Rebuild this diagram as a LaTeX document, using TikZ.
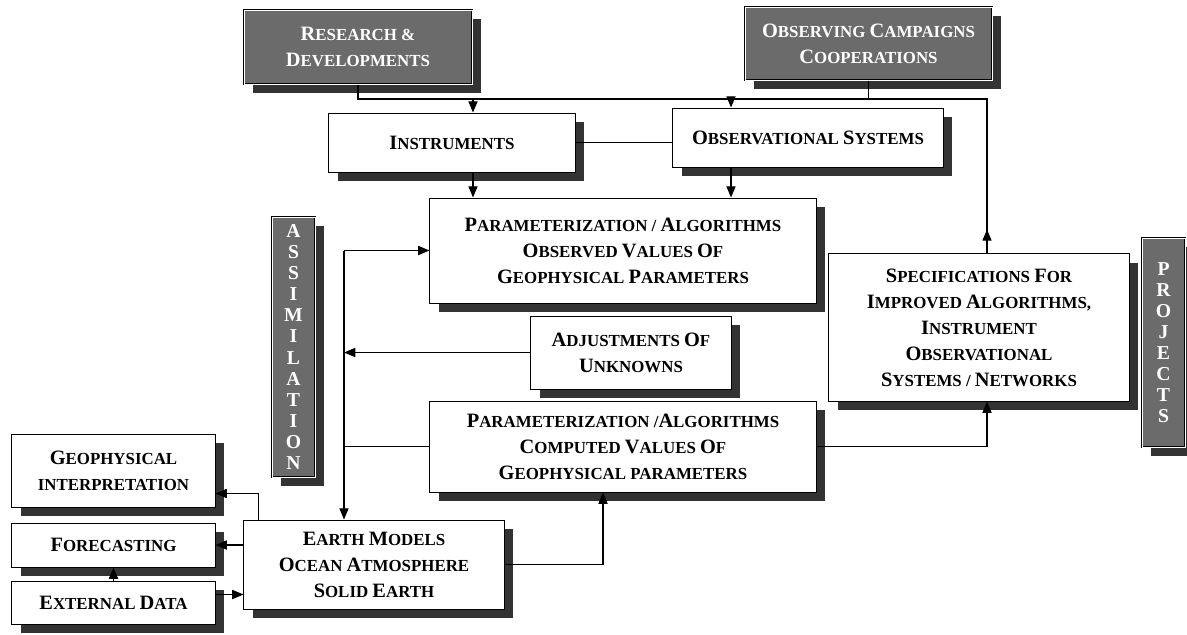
\documentclass[tikz,border=0pt]{standalone}
\usepackage{fontspec}
\setmainfont{Liberation Serif}
\usepackage{tikz}
\usetikzlibrary{arrows.meta, calc, shadows}
\newcommand{\Bg}[1]{{\fontsize{14.5}{18.5}\selectfont #1}}

\begin{document}
\begin{tikzpicture}[x=0.025cm, y=-0.025cm,
  block/.style={rectangle, draw=black, line width=0.7pt, fill=white, inner sep=0pt, align=center,
                font=\fontsize{12}{18.5}\selectfont\bfseries,
                drop shadow={shadow xshift=6.5pt, shadow yshift=-6.5pt, fill=black!80, opacity=1}},
  dark/.style={block, fill=black!58, text=white, double=white, double distance=0.6pt},
  tall/.style={dark, font=\fontsize{14}{15}\selectfont\bfseries},
  arr/.style={-{Triangle[length=8pt,width=6.5pt]}, line width=0.8pt},
  wire/.style={line width=0.8pt}
]
  \useasboundingbox (0,0) rectangle (1187,634);
  \node[dark, minimum width=5.7cm, minimum height=1.85cm] (rnd) at (358,47) {\Bg{R}ESEARCH \&\\\Bg{D}EVELOPMENTS};
  \node[dark, minimum width=6.175cm, minimum height=1.825cm] (campaign) at (868.5,43.5) {\Bg{O}BSERVING \Bg{C}AMPAIGNS\\\Bg{C}OOPERATIONS};
  \node[block, minimum width=6.15cm, minimum height=1.475cm] (instr) at (452,142.5) {\Bg{I}NSTRUMENTS};
  \node[block, minimum width=6.75cm, minimum height=1.475cm] (obssys) at (808,137.5) {\Bg{O}BSERVATIONAL \Bg{S}YSTEMS};
  \node[block, minimum width=9.65cm, minimum height=2.625cm] (pobs) at (623,250.5) {\Bg{P}ARAMETERIZATION / \Bg{A}LGORITHMS\\\Bg{O}BSERVED \Bg{V}ALUES \Bg{O}F\\\Bg{G}EOPHYSICAL \Bg{P}ARAMETERS};
  \node[block, minimum width=5cm, minimum height=1.825cm] (adjust) at (631,352.5) {\Bg{A}DJUSTMENTS \Bg{O}F\\\Bg{U}NKNOWNS};
  \node[block, minimum width=9.65cm, minimum height=2.275cm] (pcomp) at (623,446.5) {\Bg{P}ARAMETERIZATION /\Bg{A}LGORITHMS\\\Bg{C}OMPUTED \Bg{V}ALUES \Bg{O}F\\\Bg{G}EOPHYSICAL PARAMETERS};
  \node[block, minimum width=7.5cm, minimum height=3.675cm] (spec) at (979,327.5) {\Bg{S}PECIFICATIONS \Bg{F}OR\\\Bg{I}MPROVED \Bg{A}LGORITHMS,\\\Bg{I}NSTRUMENT\\\Bg{O}BSERVATIONAL\\\Bg{S}YSTEMS / \Bg{N}ETWORKS};
  \node[tall, minimum width=1.075cm, minimum height=6.5cm] (assim) at (293.5,347) {A\\S\\S\\I\\M\\I\\L\\A\\T\\I\\O\\N};
  \node[tall, minimum width=1.075cm, minimum height=5.225cm] (proj) at (1163.5,342.5) {P\\R\\O\\J\\E\\C\\T\\S};
  \node[block, minimum width=5.075cm, minimum height=1.825cm] (geo) at (113.5,470.5) {\Bg{G}EOPHYSICAL\\INTERPRETATION};
  \node[block, minimum width=5.075cm, minimum height=1.1cm] (fcast) at (113.5,545) {\Bg{F}ORECASTING};
  \node[block, minimum width=5.075cm, minimum height=1.075cm] (extdata) at (113.5,602.5) {\Bg{E}XTERNAL \Bg{D}ATA};
  \node[block, minimum width=6.5cm, minimum height=2.225cm] (earth) at (374,564.5) {\Bg{E}ARTH \Bg{M}ODELS\\\Bg{O}CEAN \Bg{A}TMOSPHERE\\\Bg{S}OLID \Bg{E}ARTH};
  \coordinate (bus) at (0,99);
  \coordinate (riser) at (987,0);
  \coordinate (xi) at (473,0);
  \coordinate (xo) at (731,0);
  \coordinate (loop) at (344,0);
  \draw[wire] (rnd.south) |- (riser |- bus) -- (riser |- spec.north);
  \draw[arr] (riser |- spec.north) -- ++(0,-24);
  \draw[wire] (campaign.south) -- (campaign.south |- bus);
  \draw[arr] (xi |- bus) -- (xi |- instr.north);
  \draw[arr] (xo |- bus) -- (xo |- obssys.north);
  \draw[wire] (instr.east) -- (instr.east -| obssys.west);
  \draw[arr] (xi |- instr.south) -- (xi |- pobs.north);
  \draw[arr] (xo |- obssys.south) -- (xo |- pobs.north);
  \draw[arr] (loop |- pobs.west) -- (pobs.west);
  \draw[arr] (loop |- pobs.west) -- (loop |- earth.north);
  \draw[arr] (adjust.west) -- (loop |- adjust.west);
  \draw[wire] (pcomp.west) -- (loop |- pcomp.west);
  \draw[arr] (pcomp.east) -| (riser |- spec.south);
  \draw[arr] (earth.east) -| ($(pcomp.south)+(-20,0)$);
  \draw[arr] ($(earth.north west)+(15,0)$) |- ($(geo.south east)+(0,-14)$);
  \draw[arr] (earth.west |- fcast.east) -- (fcast.east);
  \draw[arr] ($(extdata.east)+(0,-8)$) -- ($(earth.west |- extdata.east)+(0,-8)$);
  \draw[arr] (extdata.north) -- (fcast.south);
\end{tikzpicture}
\end{document}
